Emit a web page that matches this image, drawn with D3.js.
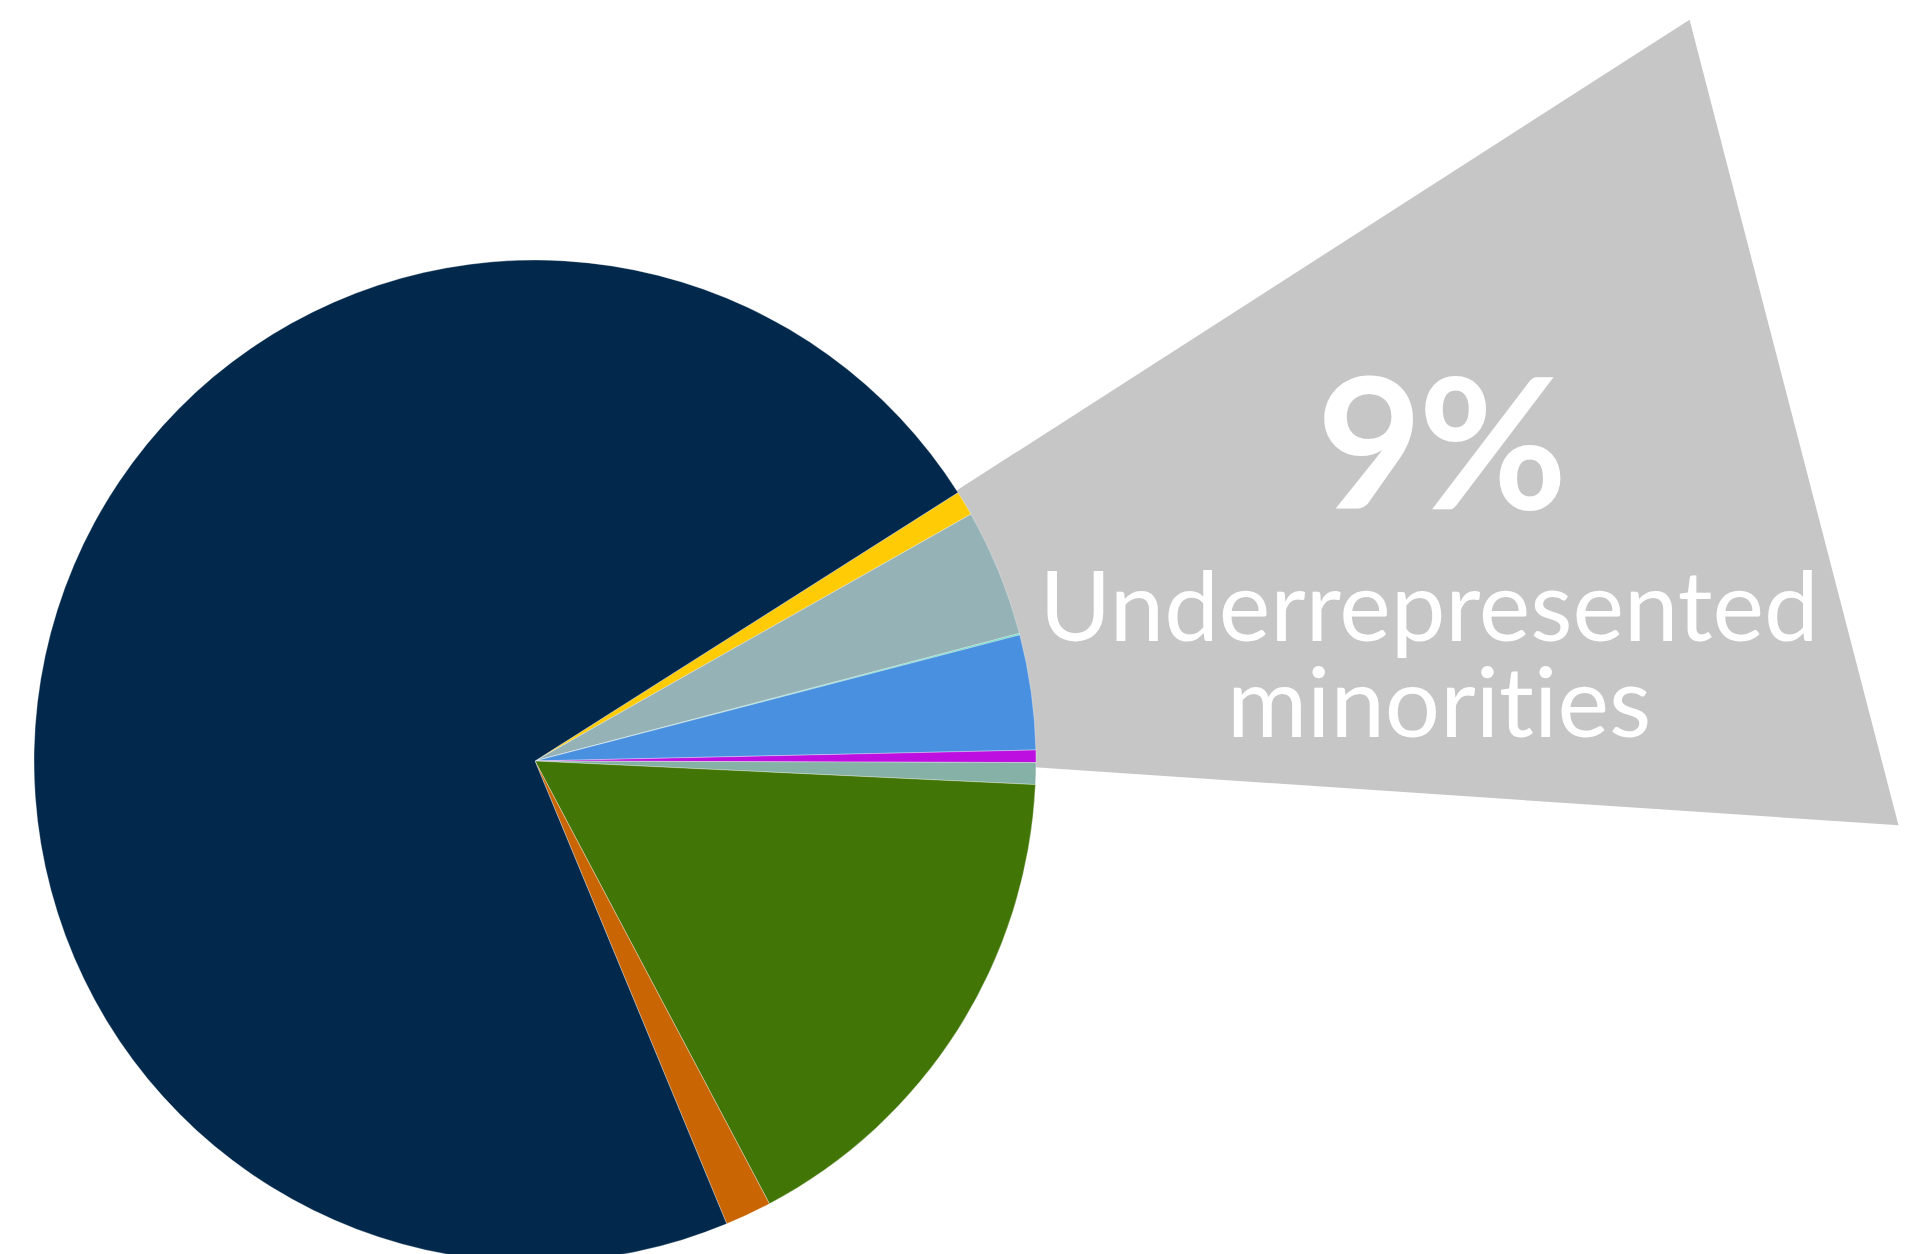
<!DOCTYPE html>
<html>
<head>
<meta charset="utf-8">
<script src="https://cdn.jsdelivr.net/npm/d3@7"></script>
<style>
  html, body { margin: 0; padding: 0; background: #ffffff; overflow: hidden; }
  svg { display: block; }
  text { font-variant-ligatures: none; font-feature-settings: "liga" 0, "clig" 0; }
</style>
</head>
<body>
<svg id="chart" width="1913" height="1254"></svg>
<script>
// Share of enrollment by group (percent), listed clockwise from the first highlighted group
const categories = ["Group 1", "Group 2", "Group 3", "Group 4", "Group 5", "Group 6", "Group 7", "Group 8", "Group 9"];
const values     = [0.8, 4.1, 0.05, 3.7, 0.4, 0.7, 16.5, 1.5, 72.25];
const highlighted = [true, true, true, true, true, false, false, false, false];
const sliceColors = ["#ffcb05", "#95b2b6", "#5fe0c0", "#4a90e0", "#bd10e0", "#85b1a6", "#417505", "#c96502", "#02284b"];

// Callout text
const calloutLines = ["Underrepresented", "minorities"];

const width = 1913, height = 1254;
const cx = 535, cy = 761, radius = 501;
const startDeg = 57.6;

const svg = d3.select("#chart");
const deg = Math.PI / 180;

const data = categories.map((c, i) => ({ name: c, value: values[i], urm: highlighted[i], color: sliceColors[i] }));

const pie = d3.pie()
  .sort(null)
  .value(d => d.value)
  .startAngle(startDeg * deg)
  .endAngle(startDeg * deg + 2 * Math.PI);

const arcs = pie(data);
const arc = d3.arc().innerRadius(0).outerRadius(radius);

// point at a given angle (radians, clockwise from 12 o'clock) and distance from the pie centre
const polar = (a, r) => [cx + r * Math.sin(a), cy - r * Math.cos(a)];

// Callout wedge behind the pie, opening from the highlighted groups
const urmArcs = arcs.filter(a => a.data.urm);
const urmStart = d3.min(urmArcs, a => a.startAngle);
const nextArc = arcs[arcs.indexOf(urmArcs[urmArcs.length - 1]) + 1];
const calloutPts = [
  polar(urmStart, 46),
  polar(urmStart - 0.3 * deg, 1372),
  polar(nextArc.endAngle, 1365)
];
svg.append("path")
  .attr("d", d3.line()(calloutPts) + "Z")
  .attr("fill", "#c6c6c6");

// Pie slices
svg.append("g")
  .attr("transform", `translate(${cx},${cy})`)
  .selectAll("path")
  .data(arcs)
  .join("path")
  .attr("d", arc)
  .attr("fill", d => d.data.color)
  .attr("stroke", "rgba(255,255,255,0.45)")
  .attr("stroke-width", 0.7);

// Callout labels
const urmTotal = d3.sum(urmArcs, a => a.data.value);
const label = svg.append("g").attr("fill", "#ffffff").attr("font-family", "Lato, 'Open Sans', sans-serif");

label.append("text")
  .attr("x", 1440)
  .attr("y", 509)
  .attr("text-anchor", "middle")
  .attr("font-size", 182)
  .attr("font-weight", 700)
  .attr("letter-spacing", -4)
  .text(`${Math.round(urmTotal)}%`);

label.append("text")
  .attr("x", 1429)
  .attr("y", 641)
  .attr("text-anchor", "middle")
  .attr("font-size", 97.5)
  .attr("font-weight", 400)
  .text(calloutLines[0]);

label.append("text")
  .attr("x", 1439)
  .attr("y", 737)
  .attr("text-anchor", "middle")
  .attr("font-size", 97.5)
  .attr("font-weight", 400)
  .text(calloutLines[1]);
</script>
</body>
</html>
